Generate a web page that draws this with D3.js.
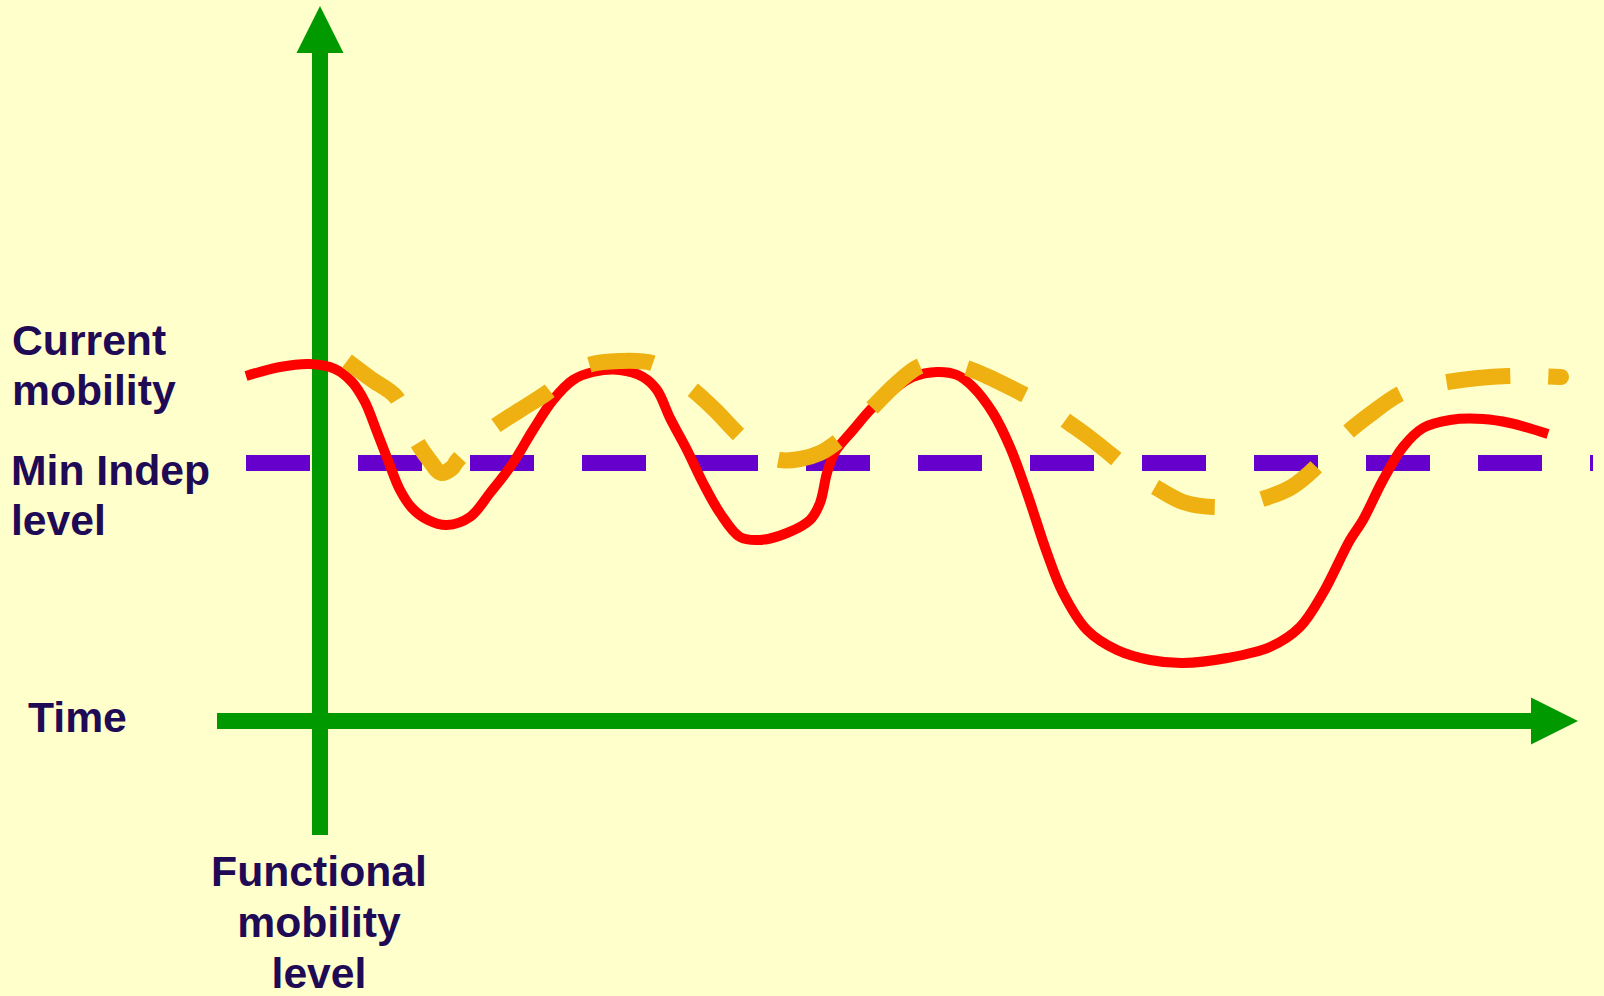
<!DOCTYPE html>
<html>
<head>
<meta charset="utf-8">
<script src="https://cdn.jsdelivr.net/npm/d3@7"></script>
<style>
  html, body { margin: 0; padding: 0; background: #FFFFCC; }
  svg { display: block; }
  text { font-family: "Liberation Sans", Arial, sans-serif; font-weight: bold; fill: #1F0A55; }
</style>
</head>
<body>
<svg id="chart" width="1604" height="996"></svg>
<script>
// ---- Data (time units from origin, mobility level above time axis) ----
const redTime  = [-7.4, -4.0, -1.0, 1.5, 3.2, 4.5, 5.7, 6.9, 8.0, 9.2, 10.8, 12.7, 15.0, 17.0, 19.3, 21.3, 23.3, 25.3, 27.3, 30.0,
                  32.3, 33.7, 35.0, 36.7, 38.3, 40.0, 42.0, 44.0, 46.7, 49.0, 50.0, 50.7, 51.5, 53.3, 55.3, 57.3, 59.3, 61.7,
                  63.7, 65.3, 67.3, 69.0, 70.7, 72.7, 74.3, 76.7, 79.7, 83.0, 86.3, 90.7, 95.0, 98.0, 100.3, 103.0, 104.3,
                  106.3, 108.3, 110.3, 113.0, 116.3, 119.0, 122.8];
const redLevel = [34.5, 35.4, 35.7, 35.2, 33.9, 31.9, 28.9, 25.8, 23.1, 21.3, 20.1, 19.6, 20.4, 22.8, 25.8, 29.1, 32.1, 34.1, 34.9, 35.1,
                  34.4, 33.1, 30.3, 27.1, 23.8, 20.8, 18.4, 18.1, 18.8, 20.1, 21.8, 24.8, 26.9, 29.1, 31.4, 33.1, 34.4, 34.9,
                  34.6, 33.4, 30.8, 27.4, 22.8, 16.8, 12.8, 9.1, 7.1, 6.1, 5.8, 6.3, 7.4, 9.4, 12.8, 18.1, 20.1,
                  24.1, 27.4, 29.3, 30.1, 30.2, 29.8, 28.7];

const orangeTime  = [2.7, 5.1, 7.6, 8.6, 9.7, 11.0, 12.1, 13.2, 13.7, 15.5, 17.4, 20.0, 22.8, 24.8, 26.8, 30.0, 33.2, 35.2, 37.3,
                     39.5, 41.7, 43.8, 46.0, 48.0, 50.0, 51.7, 53.5, 55.3, 57.5, 59.8, 62.0, 64.7, 67.5, 70.3, 72.5, 74.5,
                     77.0, 79.5, 81.5, 83.5, 86.3, 89.3, 91.8, 94.2, 97.0, 99.5, 101.0, 102.8, 105.2, 107.8, 110.0, 112.7,
                     115.8, 118.8, 121.5, 124.1];
const orangeLevel = [36.0, 34.2, 32.4, 30.1, 27.9, 26.0, 24.8, 25.3, 26.0, 27.8, 29.4, 31.1, 32.9, 34.6, 35.6, 36.0, 35.8, 34.6, 33.1,
                     31.1, 28.8, 26.9, 26.1, 26.2, 26.8, 27.9, 29.6, 31.4, 33.6, 35.4, 35.9, 35.3, 34.1, 32.7, 31.6, 30.1,
                     28.3, 26.3, 24.6, 23.4, 21.9, 21.4, 21.6, 22.2, 23.3, 25.3, 27.1, 28.9, 30.8, 32.6, 33.4, 33.9,
                     34.3, 34.5, 34.5, 34.4];

const minIndepLevel = 25.8;
const minIndepSpan  = [-7.4, 127.3];
const timeAxisSpan  = [-10.3, 125.8];   // start of shaft, arrow tip
const levelAxisSpan = [-11.4, 71.5];    // bottom of shaft, arrow tip

const leftLabels = [
  { lines: ["Current", "mobility"], level: 36.6, x: 12 },
  { lines: ["Min Indep", "level"], level: 23.6, x: 11 },
  { lines: ["Time"], level: -1.1, x: 28 }
];
const bottomLabel = ["Functional", "mobility", "level"];

// ---- Scales ----
const x = d3.scaleLinear().domain([0, 125.8]).range([320, 1578]);
const y = d3.scaleLinear().domain([0, 71.5]).range([721, 6]);

const svg = d3.select("#chart");
svg.append("rect").attr("width", 1604).attr("height", 996).attr("fill", "#FFFFCC");

const green = "#009900";
const head = 47, halfW = 23.5;

// Axes
const axes = svg.append("g");
axes.append("line")
  .attr("x1", x(timeAxisSpan[0])).attr("x2", x(timeAxisSpan[1]) - head)
  .attr("y1", y(0)).attr("y2", y(0))
  .attr("stroke", green).attr("stroke-width", 16);
axes.append("path")
  .attr("d", d3.line()([[x(timeAxisSpan[1]), y(0)], [x(timeAxisSpan[1]) - head, y(0) - halfW], [x(timeAxisSpan[1]) - head, y(0) + halfW]]) + "Z")
  .attr("fill", green);
axes.append("line")
  .attr("x1", x(0)).attr("x2", x(0))
  .attr("y1", y(levelAxisSpan[0])).attr("y2", y(levelAxisSpan[1]) + head)
  .attr("stroke", green).attr("stroke-width", 16);
axes.append("path")
  .attr("d", d3.line()([[x(0), y(levelAxisSpan[1])], [x(0) - halfW, y(levelAxisSpan[1]) + head], [x(0) + halfW, y(levelAxisSpan[1]) + head]]) + "Z")
  .attr("fill", green);

// Min independence level
svg.append("line")
  .attr("x1", x(minIndepSpan[0])).attr("x2", x(minIndepSpan[1]))
  .attr("y1", y(minIndepLevel)).attr("y2", y(minIndepLevel))
  .attr("stroke", "#6600CC").attr("stroke-width", 16)
  .attr("stroke-dasharray", "64,48");

// Curves
const line = d3.line().x(d => x(d[0])).y(d => y(d[1])).curve(d3.curveCatmullRom.alpha(0.5));
const redData = redTime.map((t, i) => [t, redLevel[i]]);
const orangeData = orangeTime.map((t, i) => [t, orangeLevel[i]]);

svg.append("path").datum(redData)
  .attr("d", line).attr("fill", "none")
  .attr("stroke", "#FF0000").attr("stroke-width", 10);

const orangeDash = [];
for (let i = 0; i < 12; i++) orangeDash.push(64, 48);
orangeDash.push(64, 38, 64, 48);
svg.append("path").datum(orangeData)
  .attr("d", line).attr("fill", "none")
  .attr("stroke", "#EEB111").attr("stroke-width", 16)
  .attr("stroke-dasharray", orangeDash.join(","));
const last = orangeData[orangeData.length - 1];
svg.append("circle").attr("cx", x(last[0])).attr("cy", y(last[1])).attr("r", 8).attr("fill", "#EEB111");

// Labels
const fs = 42.7, lh = 50;
leftLabels.forEach(lab => {
  const t = svg.append("text").attr("font-size", fs).attr("x", lab.x).attr("y", y(lab.level));
  lab.lines.forEach((s, i) => {
    t.append("tspan").attr("x", lab.x).attr("dy", i === 0 ? 0 : lh).text(s);
  });
});
const bt = svg.append("text").attr("font-size", fs).attr("text-anchor", "middle")
  .attr("x", x(0)).attr("y", 886);
bottomLabel.forEach((s, i) => {
  bt.append("tspan").attr("x", x(0) - 1).attr("dy", i === 0 ? 0 : 51).text(s);
});
</script>
</body>
</html>
